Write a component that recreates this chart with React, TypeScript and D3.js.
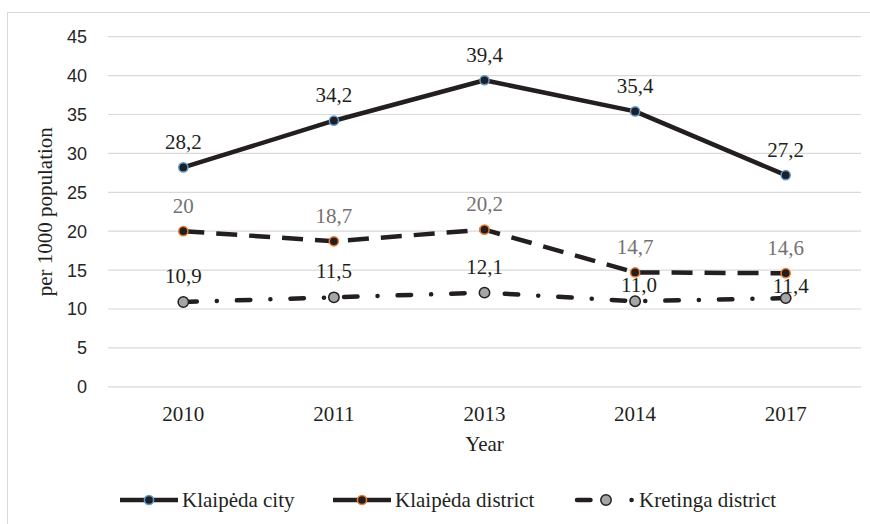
import React from "react";
import * as d3 from "d3";

// data
const years = ["2010", "2011", "2013", "2014", "2017"];
const klaipedaCity = [28.2, 34.2, 39.4, 35.4, 27.2];
const klaipedaDistrict = [20, 18.7, 20.2, 14.7, 14.6];
const kretingaDistrict = [10.9, 11.5, 12.1, 11.0, 11.4];
const cityLabels = ["28,2", "34,2", "39,4", "35,4", "27,2"];
const districtLabels = ["20", "18,7", "20,2", "14,7", "14,6"];
const kretingaLabels = ["10,9", "11,5", "12,1", "11,0", "11,4"];
const yTicks = [0, 5, 10, 15, 20, 25, 30, 35, 40, 45];

// label nudges (Excel placed the last two Kretinga labels lower)
const kretingaLabelDy = [-19, -19, -19, -9, -5];
const kretingaLabelDx = [0, 0, 0, 4, 5];

const width = 870;
const height = 524;
const plotLeft = 108;
const plotRight = 861;
const plotTop = 36.7;
const plotBottom = 386.8;

const serif = { fontFamily: "'Liberation Serif', 'DejaVu Serif', serif" };
const sans = { fontFamily: "'Liberation Sans', Arial, sans-serif" };
const ink = "#231f20";

const App = () => {
  const x = d3.scaleBand<string>().domain(years).range([plotLeft, plotRight]).padding(0);
  const y = d3.scaleLinear().domain([0, 45]).range([plotBottom, plotTop]);
  const cx = (i: number) => (x(years[i]) as number) + x.bandwidth() / 2;

  const line = d3
    .line<number>()
    .x((_, i) => cx(i))
    .y((d) => y(d))
    .curve(d3.curveLinear);

  const series = [
    {
      name: "Klaipėda city",
      values: klaipedaCity,
      labels: cityLabels,
      dash: "none",
      legendDash: "none",
      markerFill: ink,
      markerStroke: "#5b9bd5",
      labelColor: ink,
      cap: "butt",
      r: 4.6,
    },
    {
      name: "Klaipėda district",
      values: klaipedaDistrict,
      labels: districtLabels,
      dash: "21,12",
      legendDash: "none",
      markerFill: ink,
      markerStroke: "#ed7d31",
      labelColor: "#767171",
      cap: "butt",
      r: 4.6,
    },
    {
      name: "Kretinga district",
      values: kretingaDistrict,
      labels: kretingaLabels,
      dash: "13.5,20,0.1,20",
      legendDash: "13.5,41,0.1,20",
      markerFill: "#a5a5a5",
      markerStroke: ink,
      labelColor: ink,
      cap: "round",
      r: 5.2,
    },
  ];

  const legendX = [120, 333, 577];
  const legendY = 500;

  return (
    <svg
      width={width}
      height={height}
      style={{ position: "absolute", left: 0, top: 0, background: "#fff" }}
    >
      <rect x={7.5} y={12.5} width={900} height={600} fill="#fff" stroke="#d9d9d9" strokeWidth={1} />

      {/* gridlines + y ticks */}
      {yTicks.map((t) => (
        <g key={t}>
          <line x1={plotLeft} x2={plotRight} y1={y(t)} y2={y(t)} stroke="#d9d9d9" strokeWidth={1.2} />
          <text x={87} y={y(t)} dy="0.36em" textAnchor="end" style={sans} fontSize={18} fill="#262626">
            {t}
          </text>
        </g>
      ))}

      {/* x labels */}
      {years.map((yr, i) => (
        <text key={yr} x={cx(i)} y={421} textAnchor="middle" style={serif} fontSize={21} fill={ink}>
          {yr}
        </text>
      ))}
      <text x={(plotLeft + plotRight) / 2} y={451} textAnchor="middle" style={serif} fontSize={21} fill={ink}>
        Year
      </text>
      <text
        transform={`translate(52,${(plotTop + plotBottom) / 2}) rotate(-90)`}
        textAnchor="middle"
        style={serif}
        fontSize={21}
        fill={ink}
      >
        per 1000 population
      </text>

      {/* lines */}
      {series.map((s) => (
        <path
          key={s.name}
          d={line(s.values) || ""}
          fill="none"
          stroke={ink}
          strokeWidth={4.5}
          strokeDasharray={s.dash}
          strokeLinecap={s.cap as any}
          strokeLinejoin="round"
        />
      ))}

      {/* markers */}
      {series.map((s) =>
        s.values.map((v, i) => (
          <circle
            key={s.name + i}
            cx={cx(i)}
            cy={y(v)}
            r={s.r}
            fill={s.markerFill}
            stroke={s.markerStroke}
            strokeWidth={1.5}
          />
        ))
      )}

      {/* data labels */}
      {series.map((s) =>
        s.values.map((v, i) => {
          const isKret = s.name === "Kretinga district";
          const dy = isKret ? kretingaLabelDy[i] : -18.5;
          const dx = isKret ? kretingaLabelDx[i] : 0;
          return (
            <text
              key={s.name + "l" + i}
              x={cx(i) + dx}
              y={y(v) + dy}
              textAnchor="middle"
              style={serif}
              fontSize={21}
              fill={s.labelColor}
            >
              {s.labels[i]}
            </text>
          );
        })
      )}

      {/* legend */}
      {series.map((s, i) => {
        const lx = legendX[i];
        return (
          <g key={s.name + "leg"}>
            <line
              x1={lx}
              x2={lx + 58}
              y1={legendY}
              y2={legendY}
              stroke={ink}
              strokeWidth={4.5}
              strokeDasharray={s.legendDash}
              strokeLinecap={s.cap as any}
            />
            <circle
              cx={lx + 29}
              cy={legendY}
              r={s.r}
              fill={s.markerFill}
              stroke={s.markerStroke}
              strokeWidth={1.5}
            />
            <text x={lx + 62} y={legendY + 7} style={serif} fontSize={21} fill={ink}>
              {s.name}
            </text>
          </g>
        );
      })}
    </svg>
  );
};

export default App;
